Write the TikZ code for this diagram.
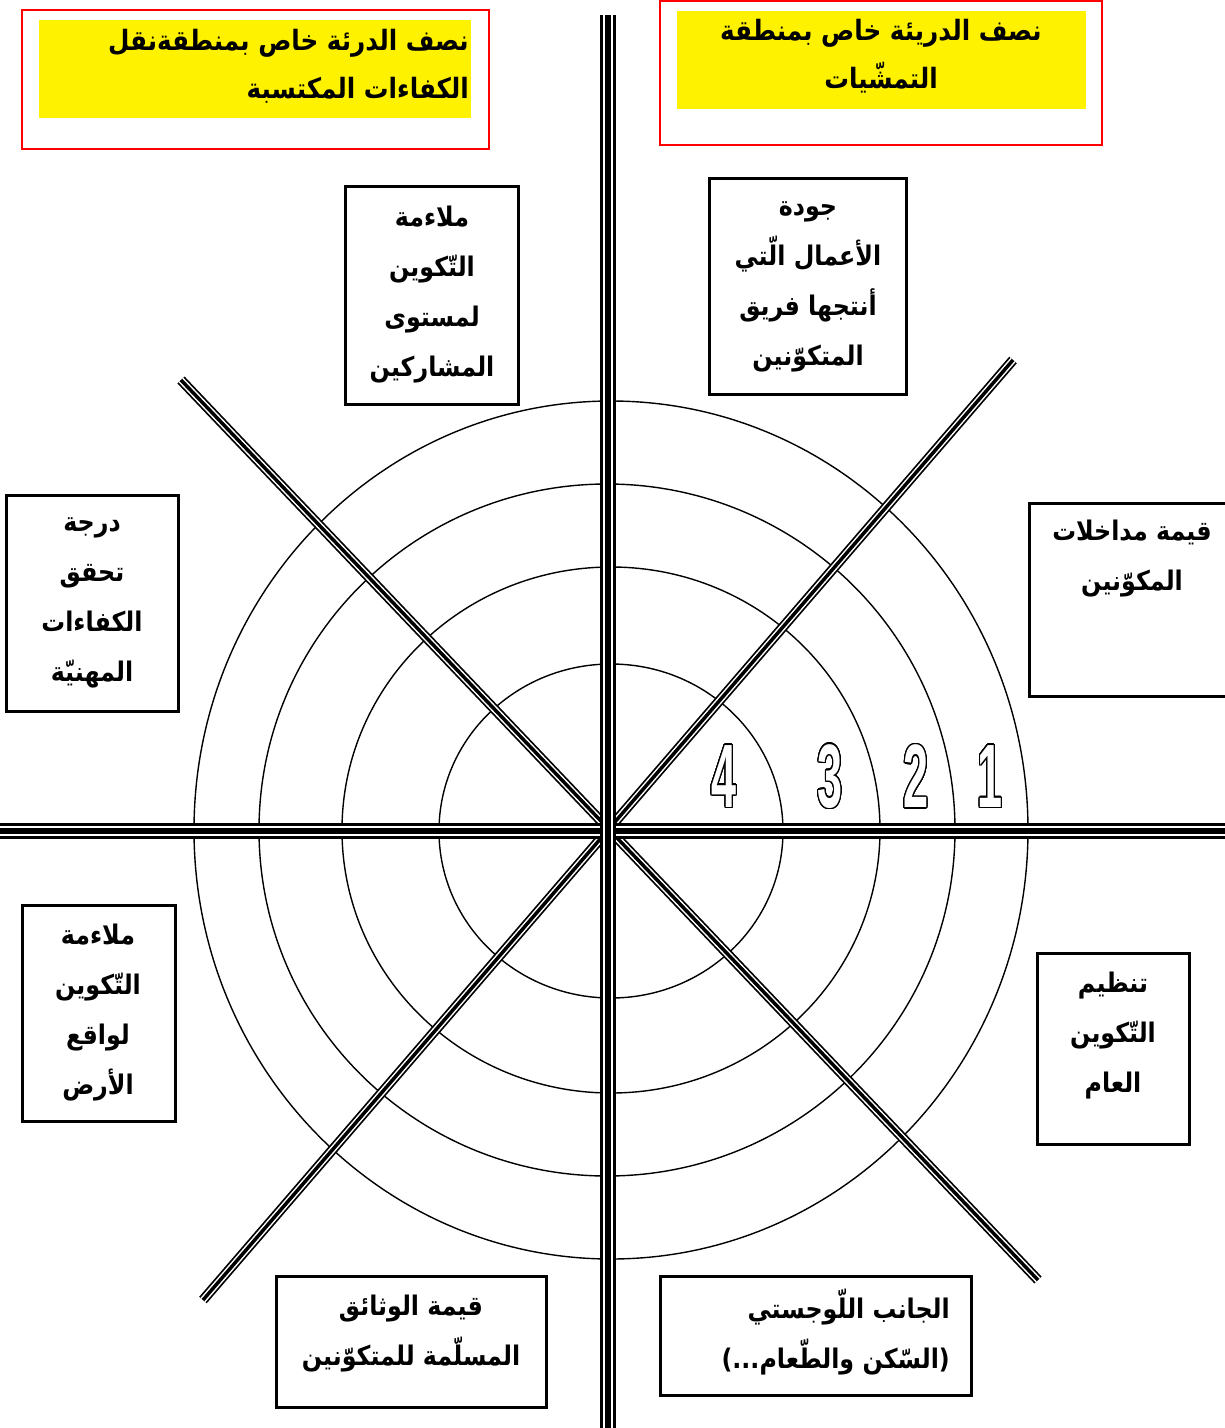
\documentclass[tikz,border=0pt]{standalone}
\usepackage{fontspec}
\usepackage{graphicx}
\usepackage{contour}
\TeXXeTstate=1
\newfontfamily\arabicfont[Script=Arabic,FakeStretch=0.88]{DejaVu Sans}
\newfontfamily\numfont{Liberation Sans}
\contourlength{1.4pt}
\contournumber{24}
\newcommand{\arl}[1]{\beginR #1\endR}
\newcommand{\digout}[1]{\textcolor{white}{\contour{black}{\scalebox{0.5}[1]{#1}}}}
\tikzset{
  redbox/.style={draw=red, line width=2pt, inner sep=0pt},
  yelbox/.style={fill=yellow, inner sep=0pt},
  tbox/.style={draw=black, line width=3pt, inner sep=0pt},
  ring/.style={draw=black, line width=1.4pt},
  atext/.style={font=\arabicfont\bfseries\fontsize{27}{50}\selectfont, inner sep=0pt},
  htext/.style={font=\arabicfont\bfseries\fontsize{28}{48}\selectfont, inner sep=0pt},
  numtext/.style={font=\numfont\bfseries\fontsize{90}{90}\selectfont, inner sep=0pt},
  triple/.style={draw=black, line width=15.5pt, postaction={draw=white, line width=10pt}, postaction={draw=black, line width=6pt}},
  tripled/.style={draw=black, line width=10pt, postaction={draw=white, line width=6.5pt}, postaction={draw=black, line width=3.5pt}}
}
\begin{document}
\begin{tikzpicture}[x=1pt,y=-1pt]
\useasboundingbox (0,0) rectangle (1225,1428);
\fill[white] (0,0) rectangle (1225,1428);

% centre and axis ends
\coordinate (O) at (608,831);
\coordinate (top) at (608,15);
\coordinate (bot) at (608,1440);
\coordinate (lft) at (-10,831);
\coordinate (rgt) at (1235,831);
\coordinate (nw) at (181,380);
\coordinate (se) at (1038,1280);
\coordinate (ne) at (1013,360);
\coordinate (sw) at (203,1300);

% rings
\draw[ring] (611,830) ellipse [x radius=417, y radius=429];
\draw[ring] (607,830) ellipse [x radius=348, y radius=346];
\draw[ring] (611,830) ellipse [x radius=269, y radius=263];
\draw[ring] (611,831) ellipse [x radius=172, y radius=167];

% axes
\draw[tripled] (nw) -- (se);
\draw[tripled] (ne) -- (sw);
\draw[triple] (lft) -- (rgt);
\draw[triple] (top) -- (bot);

% ring numbers
\node[numtext] (n4) at (724,777) {\digout{4}};
\node[numtext] (n3) at (830,777) {\digout{3}};
\node[numtext] (n2) at (916,777) {\digout{2}};
\node[numtext] (n1) at (990,777) {\digout{1}};

% top headers
\node[redbox, minimum width=467pt, minimum height=139pt] (hl) at (255.5,79.5) {};
\node[yelbox, minimum width=432pt, minimum height=98pt] (hly) at (255,69) {};
\node[htext, align=right, anchor=east] (hlt) at (469,66) {\arl{نصف الدرئة خاص بمنطقةنقل}\\\arl{الكفاءات المكتسبة}};

\node[redbox, minimum width=442pt, minimum height=144pt] (hr) at (881,73) {};
\node[yelbox, minimum width=409pt, minimum height=98pt] (hry) at (881.5,60) {};
\node[htext, align=center] (hrt) at (881,56) {\arl{نصف الدريئة خاص بمنطقة}\\\arl{التمشّيات}};

% boxes
\node[tbox, minimum width=173pt, minimum height=218pt] (b1) at (431.5,295) {};
\node[atext, align=center] (b1t) at (432,295) {\arl{ملاءمة}\\\arl{التّكوين}\\\arl{لمستوى}\\\arl{المشاركين}};

\node[tbox, minimum width=197pt, minimum height=216pt] (b2) at (807.5,286) {};
\node[atext, align=center] (b2t) at (808,286.5) {\arl{جودة}\\\arl{الأعمال الّتي}\\\arl{أنتجها فريق}\\\arl{المتكوّنين}};

\node[tbox, minimum width=200pt, minimum height=193pt] (b3) at (1129,599.5) {};
\node[atext, align=center] (b3t) at (1132,559) {\arl{قيمة مداخلات}\\\arl{المكوّنين}};

\node[tbox, minimum width=172pt, minimum height=216pt] (b4) at (92,603) {};
\node[atext, align=center] (b4t) at (92,602.5) {\arl{درجة}\\\arl{تحقق}\\\arl{الكفاءات}\\\arl{المهنيّة}};

\node[tbox, minimum width=153pt, minimum height=216pt] (b5) at (98.5,1013) {};
\node[atext, align=center] (b5t) at (98,1013) {\arl{ملاءمة}\\\arl{التّكوين}\\\arl{لواقع}\\\arl{الأرض}};

\node[tbox, minimum width=152pt, minimum height=191pt] (b6) at (1113,1048.5) {};
\node[atext, align=center] (b6t) at (1113,1036) {\arl{تنظيم}\\\arl{التّكوين}\\\arl{العام}};

\node[tbox, minimum width=270pt, minimum height=131pt] (b7) at (411,1341.5) {};
\node[atext, align=center] (b7t) at (411,1334) {\arl{قيمة الوثائق}\\\arl{المسلّمة للمتكوّنين}};

\node[tbox, minimum width=311pt, minimum height=119pt] (b8) at (815.5,1335.5) {};
\node[atext, align=right, anchor=east] (b8t) at (950,1332.5) {\arl{الجانب اللّوجستي}\\\arl{(السّكن والطّعام...)}};
\end{tikzpicture}
\end{document}
